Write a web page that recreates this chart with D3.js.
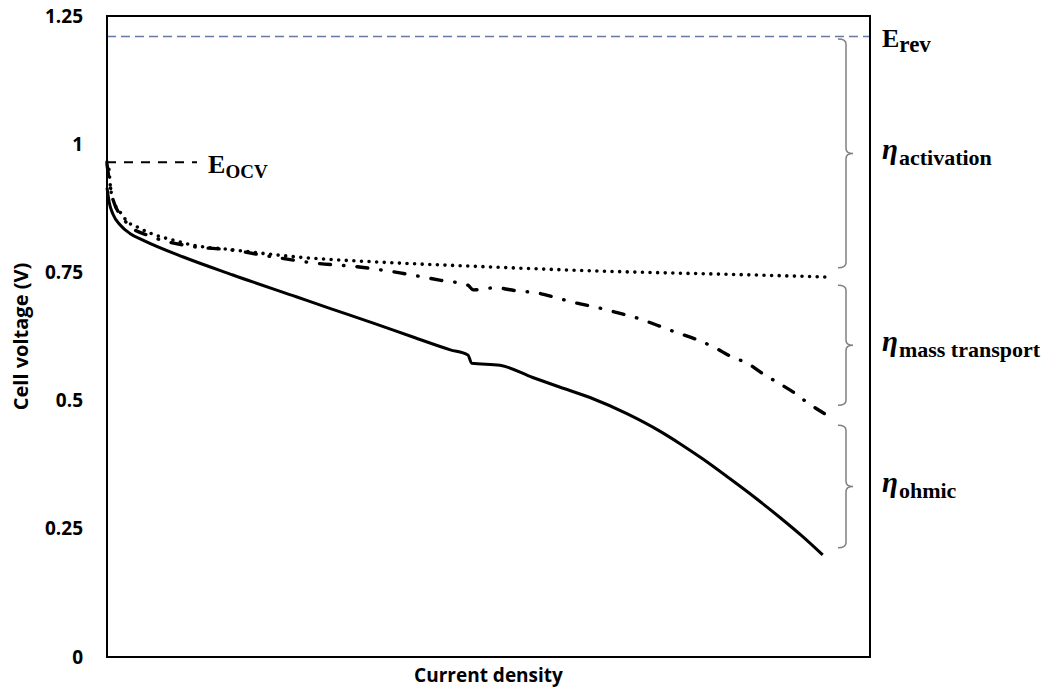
<!DOCTYPE html>
<html>
<head>
<meta charset="utf-8">
<script src="https://cdn.jsdelivr.net/npm/d3@7"></script>
<style>
  body { margin: 0; background: #fff; }
  svg text { fill: #000; }
</style>
</head>
<body>
<svg id="chart" width="1057" height="690"></svg>
<script>
// ideal, mass-transport limited and real polarisation curves (current density in arbitrary units 0-100)
var dotted = [
  [0, 0.965], [0.26, 0.950], [0.4, 0.924], [0.8, 0.891], [1.7, 0.868], [2.75, 0.848],
  [3.9, 0.839], [5.6, 0.827], [8.65, 0.813], [11.3, 0.803], [16.5, 0.794], [24.9, 0.780],
  [35.8, 0.770], [48.0, 0.762], [63.7, 0.753], [84.7, 0.745], [94.4, 0.741]
];
var dashDot = [
  [0, 0.961], [0.4, 0.920], [0.9, 0.887], [1.8, 0.862], [3.0, 0.840], [5.6, 0.821],
  [10.9, 0.801], [16.1, 0.794], [21.8, 0.780], [27.3, 0.768], [32.8, 0.761], [38.4, 0.749],
  [43.6, 0.735], [47.3, 0.725], [48.0, 0.716], [50.9, 0.720], [53.7, 0.714], [56.4, 0.710],
  [59.0, 0.700], [61.6, 0.690], [64.4, 0.681], [67.0, 0.671], [69.9, 0.659], [72.1, 0.647],
  [74.4, 0.634], [77.1, 0.620], [79.7, 0.603], [81.9, 0.585], [83.9, 0.573], [85.8, 0.554],
  [87.8, 0.536], [89.9, 0.517], [91.9, 0.495], [94.1, 0.474]
];
var solid = [
  [0, 0.915], [0.3, 0.886], [0.8, 0.863], [1.7, 0.843], [3.0, 0.826], [4.7, 0.813],
  [10.0, 0.780], [16.5, 0.745],
  [24.9, 0.702], [29.2, 0.680], [34.9, 0.651], [40.1, 0.624], [45.0, 0.599], [47.3, 0.589],
  [47.8, 0.573], [51.5, 0.569], [55.8, 0.545], [59.4, 0.526], [63.3, 0.506], [68.2, 0.474],
  [72.5, 0.440], [75.1, 0.416], [78.1, 0.386], [81.7, 0.347], [85.0, 0.310], [88.2, 0.272],
  [91.0, 0.237], [93.8, 0.199]
];

var yTicks = [0, 0.25, 0.5, 0.75, 1, 1.25];
var yTickLabels = ["0", "0.25", "0.5", "0.75", "1", "1.25"];

var eRev = 1.21;
var eOcv = 0.965;
var eOcvEnd = 11.8;

// voltage ranges covered by each brace
var braces = [
  { name: "activation", top: 1.205, bottom: 0.759 },
  { name: "mass transport", top: 0.725, bottom: 0.491 },
  { name: "ohmic", top: 0.452, bottom: 0.213 }
];

var margin = { left: 107, top: 16, right: 187, bottom: 33 };
var width = 1057, height = 690;

var svg = d3.select('#chart');

var x = d3.scaleLinear().domain([0, 100]).range([margin.left, width - margin.right]);
var y = d3.scaleLinear().domain([0, 1.25]).range([height - margin.bottom, margin.top]);

var sans = "'Open Sans', 'DejaVu Sans', sans-serif";
var serif = "'Liberation Serif', 'DejaVu Serif', serif";

// y axis labels
var yAxis = d3.axisLeft(y)
  .tickValues(yTicks)
  .tickSize(0)
  .tickPadding(24)
  .tickFormat(function(d, i) { return yTickLabels[i]; });

svg.append('g')
  .attr('transform', 'translate(' + margin.left + ',0)')
  .call(yAxis)
  .call(function(g) { g.select('.domain').remove(); })
  .selectAll('text')
  .attr('font-family', sans)
  .attr('font-weight', 700)
  .attr('font-size', 19)
  .attr('fill', '#000');

// reversible potential
svg.append('line')
  .attr('x1', x(0)).attr('x2', x(100))
  .attr('y1', y(eRev)).attr('y2', y(eRev))
  .attr('stroke', '#6878a6')
  .attr('stroke-width', 1.3)
  .attr('stroke-dasharray', '9,5');

// open circuit voltage
svg.append('line')
  .attr('x1', x(0)).attr('x2', x(eOcvEnd))
  .attr('y1', y(eOcv)).attr('y2', y(eOcv))
  .attr('stroke', '#000')
  .attr('stroke-width', 2)
  .attr('stroke-dasharray', '9,8');

var line = d3.line()
  .x(function(d) { return x(d[0]); })
  .y(function(d) { return y(d[1]); })
  .curve(d3.curveMonotoneX);

svg.append('path')
  .datum(dotted)
  .attr('d', line)
  .attr('fill', 'none')
  .attr('stroke', '#000')
  .attr('stroke-width', 3.6)
  .attr('stroke-linecap', 'round')
  .attr('stroke-dasharray', '0,7.6');

svg.append('path')
  .datum(dashDot)
  .attr('d', line)
  .attr('fill', 'none')
  .attr('stroke', '#000')
  .attr('stroke-width', 3.4)
  .attr('stroke-linecap', 'round')
  .attr('stroke-dasharray', '11,13,0.5,13');

svg.append('path')
  .datum(solid)
  .attr('d', line)
  .attr('fill', 'none')
  .attr('stroke', '#000')
  .attr('stroke-width', 3);

// plot frame
svg.append('rect')
  .attr('x', x(0)).attr('y', y(1.25))
  .attr('width', x(100) - x(0))
  .attr('height', y(0) - y(1.25))
  .attr('fill', 'none')
  .attr('stroke', '#000')
  .attr('stroke-width', 2);

// curly braces
var bx0 = x(100) - 32, bx1 = x(100) - 24, bx2 = x(100) - 17;
function bracePath(b) {
  var yt = y(b.top), yb = y(b.bottom), ym = (yt + yb) / 2, r = 5;
  return 'M' + bx0 + ',' + yt +
    'Q' + bx1 + ',' + yt + ' ' + bx1 + ',' + (yt + r) +
    'L' + bx1 + ',' + (ym - r) +
    'Q' + bx1 + ',' + ym + ' ' + bx2 + ',' + ym +
    'Q' + bx1 + ',' + ym + ' ' + bx1 + ',' + (ym + r) +
    'L' + bx1 + ',' + (yb - r) +
    'Q' + bx1 + ',' + yb + ' ' + bx0 + ',' + yb;
}

svg.selectAll('path.brace')
  .data(braces)
  .enter().append('path')
  .attr('class', 'brace')
  .attr('d', bracePath)
  .attr('fill', 'none')
  .attr('stroke', '#808080')
  .attr('stroke-width', 1.5);

// overpotential labels
var lx = x(100) + 12;
braces.forEach(function(b) {
  var ym = (y(b.top) + y(b.bottom)) / 2;
  var t = svg.append('text')
    .attr('x', lx)
    .attr('y', ym + 6)
    .attr('font-family', serif)
    .attr('font-weight', 700);
  t.append('tspan')
    .attr('font-size', 29)
    .attr('font-style', 'italic')
    .text('η');
  t.append('tspan')
    .attr('font-size', 22)
    .attr('dx', 1)
    .attr('dy', 6)
    .text(b.name);
});

// potential labels
function potentialLabel(px, py, sub, subSize) {
  var t = svg.append('text')
    .attr('x', px)
    .attr('y', py)
    .attr('font-family', serif)
    .attr('font-weight', 700);
  t.append('tspan').attr('font-size', 26).text('E');
  t.append('tspan').attr('font-size', subSize).attr('dy', 5).text(sub);
}
potentialLabel(lx, y(eRev) + 10, 'rev', 23);
potentialLabel(x(eOcvEnd) + 11, y(eOcv) + 11, 'OCV', 19);

// axis titles
svg.append('text')
  .attr('x', (x(0) + x(100)) / 2)
  .attr('y', 682)
  .attr('text-anchor', 'middle')
  .attr('font-family', sans)
  .attr('font-weight', 700)
  .attr('font-size', 19)
  .text('Current density');

svg.append('text')
  .attr('transform', 'translate(28,' + ((y(0) + y(1.25)) / 2) + ') rotate(-90)')
  .attr('text-anchor', 'middle')
  .attr('font-family', sans)
  .attr('font-weight', 700)
  .attr('font-size', 20)
  .text('Cell voltage (V)');
</script>
</body>
</html>
